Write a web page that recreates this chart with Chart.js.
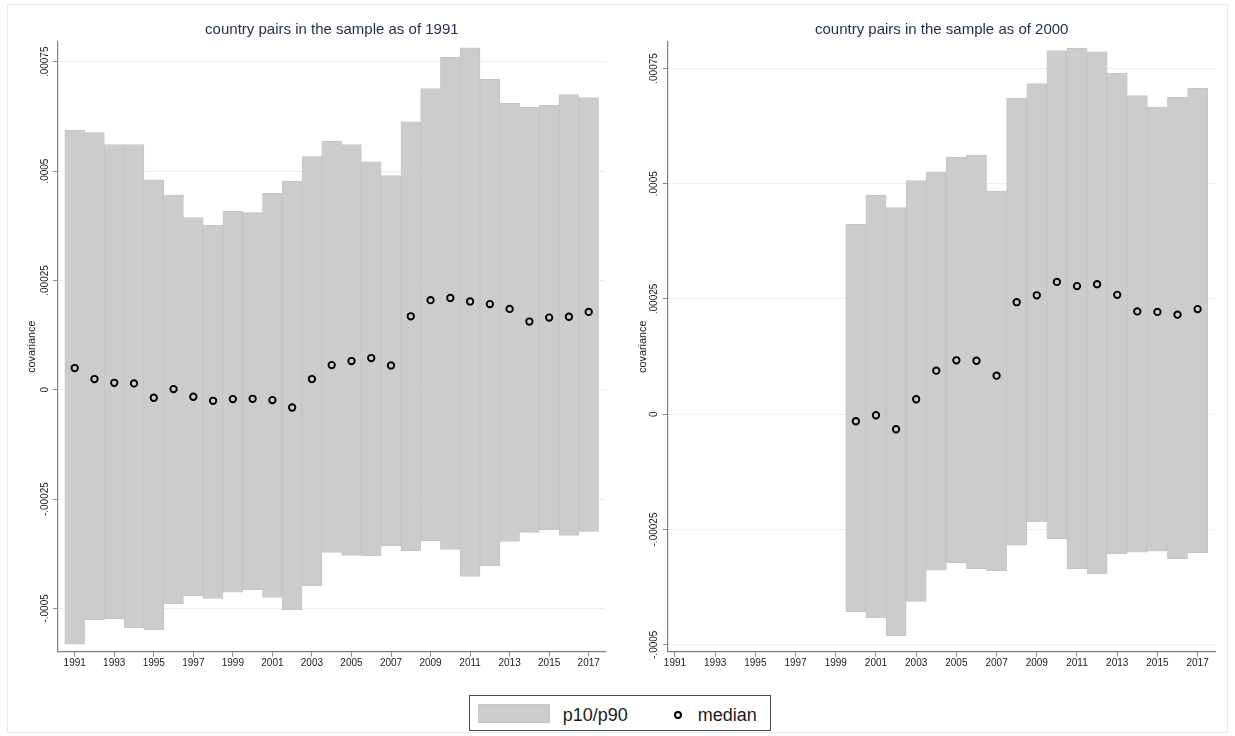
<!DOCTYPE html>
<html>
<head>
<meta charset="utf-8">
<title>covariance p10/p90 and median by year</title>
<script src="https://cdn.jsdelivr.net/npm/chart.js@4.4.1/dist/chart.umd.min.js"></script>
<style>
  html, body { margin: 0; padding: 0; background: #fff; }
  body { width: 1235px; height: 736px; position: relative; overflow: hidden;
         font-family: "Liberation Sans", Arial, Helvetica, sans-serif; }
  #frame { position: absolute; left: 7px; top: 4px; width: 1221px; height: 729px;
           border: 1px solid #e6ecee; box-sizing: border-box; }
  canvas { position: absolute; top: 0; }
  #left  { left: 0; }
  #right { left: 610px; }
  #legend { position: absolute; left: 469px; top: 695px; width: 302px; height: 36px;
            border: 1px solid #4a4a4a; box-sizing: border-box; background: #fff; }
  #legend .swatch { position: absolute; left: 8px; top: 8px; width: 72px; height: 19px;
                    background: #cccccc; border: 1px solid #c6c6c6; box-sizing: border-box; }
  #legend .label { position: absolute; top: 10px; font-size: 18px; line-height: 18px;
                   color: #1a1a1a; white-space: nowrap; }
  #legend .marker { position: absolute; left: 204px; top: 15.2px; width: 8.2px; height: 8.2px;
                    border: 2px solid #000; border-radius: 50%; box-sizing: border-box; }
</style>
</head>
<body>
<div id="frame"></div>
<canvas id="left" width="615" height="690"></canvas>
<canvas id="right" width="620" height="690"></canvas>
<div id="legend"></div>

<script>
// ---- data -----------------------------------------------------------
const years1991 = [1991, 1992, 1993, 1994, 1995, 1996, 1997, 1998, 1999, 2000,
                   2001, 2002, 2003, 2004, 2005, 2006, 2007, 2008, 2009, 2010,
                   2011, 2012, 2013, 2014, 2015, 2016, 2017];
const p90_1991 = [0.000594, 0.000588, 0.000561, 0.000561, 0.000480, 0.000445, 0.000394,
                  0.000376, 0.000408, 0.000405, 0.000449, 0.000477, 0.000533, 0.000568,
                  0.000561, 0.000521, 0.000490, 0.000613, 0.000689, 0.000761, 0.000782,
                  0.000710, 0.000655, 0.000646, 0.000651, 0.000675, 0.000668];
const p10_1991 = [-0.000582, -0.000526, -0.000524, -0.000544, -0.000549, -0.000489, -0.000471,
                  -0.000477, -0.000463, -0.000457, -0.000475, -0.000503, -0.000448, -0.000372,
                  -0.000379, -0.000380, -0.000357, -0.000368, -0.000345, -0.000365, -0.000427,
                  -0.000403, -0.000347, -0.000326, -0.000320, -0.000333, -0.000324];
const median_1991 = [0.0000497, 0.0000245, 0.0000160, 0.0000145, -0.0000183, 0.0000015, -0.0000160,
                     -0.0000252, -0.0000213, -0.0000206, -0.0000236, -0.0000405, 0.0000245, 0.0000565,
                     0.0000657, 0.0000726, 0.0000556, 0.000168, 0.000205, 0.000210, 0.000202,
                     0.000196, 0.000185, 0.000156, 0.000165, 0.000167, 0.000178];

const years2000 = [2000, 2001, 2002, 2003, 2004, 2005, 2006, 2007, 2008,
                   2009, 2010, 2011, 2012, 2013, 2014, 2015, 2016, 2017];
const p90_2000 = [0.000412, 0.000475, 0.000448, 0.000507, 0.000526, 0.000558, 0.000562, 0.000484, 0.000685,
                  0.000717, 0.000789, 0.000794, 0.000786, 0.000740, 0.000691, 0.000666, 0.000688, 0.000707];
const p10_2000 = [-0.000428, -0.000442, -0.000480, -0.000406, -0.000338, -0.000322, -0.000335, -0.000339, -0.000284,
                  -0.000233, -0.000270, -0.000335, -0.000346, -0.000303, -0.000299, -0.000297, -0.000314, -0.000300];
const median_2000 = [-0.0000152, -0.0000022, -0.0000325, 0.0000325, 0.0000945, 0.000117, 0.000116, 0.0000837, 0.000243,
                     0.000258, 0.000287, 0.000278, 0.000282, 0.000259, 0.000223, 0.000222, 0.000216, 0.000228];

const xTickYears = [1991, 1993, 1995, 1997, 1999, 2001, 2003, 2005, 2007, 2009, 2011, 2013, 2015, 2017];
const yTickValues = [-0.0005, -0.00025, 0, 0.00025, 0.0005, 0.00075];
const yTickLabels = ['-.0005', '-.00025', '0', '.00025', '.0005', '.00075'];
const seriesNames = ['p10/p90', 'median'];
const panelTitles = ['country pairs in the sample as of 1991', 'country pairs in the sample as of 2000'];
const yAxisTitle = 'covariance';

// ---- styling --------------------------------------------------------
const FONT = '"Liberation Sans", Arial, Helvetica, sans-serif';
const AXIS_COLOR = '#7f7f7f';
const TICK_COLOR = '#8c8c8c';
const GRID_COLOR = '#e9f0f1';
const TEXT_COLOR = '#1a1a1a';
const TITLE_COLOR = '#1f2d55';
const BAR_FILL = '#cccccc';
const BAR_EDGE = '#c5c5c5';
const CANVAS_H = 690;
const PLOT_BOTTOM = 651.7;

Chart.defaults.font.family = FONT;

function drawPanel(id, cfg) {
  const ranges = cfg.years.map((yr, i) => ({ x: yr, y: [cfg.p10[i], cfg.p90[i]] }));
  const medians = cfg.years.map((yr, i) => ({ x: yr, y: cfg.median[i] }));

  return new Chart(document.getElementById(id), {
    type: 'bar',
    data: {
      datasets: [
        {
          type: 'scatter',
          label: seriesNames[1],
          data: medians,
          order: 0,
          pointStyle: 'circle',
          pointRadius: 3.2,
          pointBorderWidth: 1.9,
          pointBorderColor: '#000000',
          pointBackgroundColor: 'rgba(0,0,0,0)'
        },
        {
          label: seriesNames[0],
          data: ranges,
          order: 1,
          backgroundColor: BAR_FILL,
          borderColor: BAR_EDGE,
          borderWidth: 1,
          borderSkipped: false,
          barPercentage: 1,
          categoryPercentage: 1
        }
      ]
    },
    options: {
      responsive: false,
      animation: false,
      devicePixelRatio: 1,
      events: [],
      layout: { padding: { left: 0, right: cfg.padRight, top: 0, bottom: 0 } },
      plugins: {
        legend: { display: false },
        tooltip: { enabled: false },
        title: {
          display: true,
          text: cfg.title,
          fullSize: false,
          color: TITLE_COLOR,
          font: { size: 15, weight: 'normal', lineHeight: 1.2 },
          padding: { top: 21.3, bottom: 2.4 }
        }
      },
      scales: {
        x: {
          type: 'linear',
          min: cfg.xMin,
          max: cfg.xMax,
          offset: false,
          grid: {
            display: true, drawOnChartArea: false, drawTicks: true, offset: false,
            tickLength: 5, tickColor: TICK_COLOR, tickWidth: 1
          },
          border: { display: true, color: AXIS_COLOR, width: 1.2 },
          ticks: {
            autoSkip: false, minRotation: 0, maxRotation: 0, padding: 1,
            color: TEXT_COLOR, font: { size: 10 },
            callback: (v) => String(v)
          },
          afterBuildTicks: (s) => { s.ticks = xTickYears.map(v => ({ value: v })); },
          afterFit: (s) => { s.height = CANVAS_H - PLOT_BOTTOM; }
        },
        y: {
          min: cfg.yMin,
          max: cfg.yMax,
          grid: {
            color: GRID_COLOR, lineWidth: 1, drawTicks: true,
            tickLength: 5, tickColor: TICK_COLOR, tickWidth: 1
          },
          border: { display: true, color: AXIS_COLOR, width: 1.2 },
          ticks: {
            minRotation: 90, maxRotation: 90, crossAlign: 'center', padding: -8.95,
            color: TEXT_COLOR, font: { size: 10 },
            callback: (v, i) => yTickLabels[i]
          },
          title: {
            display: true, text: yAxisTitle, color: TEXT_COLOR,
            font: { size: 10.8, lineHeight: 1.2 },
            padding: { top: cfg.titlePad, bottom: 0 }
          },
          afterBuildTicks: (s) => { s.ticks = yTickValues.map(v => ({ value: v })); },
          afterFit: (s) => { s.width = cfg.axisWidth; }
        }
      }
    }
  });
}

const leftChart = drawPanel('left', {
  title: panelTitles[0], years: years1991, p10: p10_1991, p90: p90_1991, median: median_1991,
  xMin: 1990.155, xMax: 2017.86, yMin: -0.000599, yMax: 0.000796,
  axisWidth: 58, padRight: 9.3, titlePad: 25.7
});

drawPanel('right', {
  title: panelTitles[1], years: years2000, p10: p10_2000, p90: p90_2000, median: median_2000,
  xMin: 1990.64, xMax: 2017.9, yMin: -0.000515, yMax: 0.000808,
  axisWidth: 57.7, padRight: 14.3, titlePad: 26.4
});

// ---- shared legend, built from the chart's dataset labels ---------------
(function buildLegend() {
  const legend = document.getElementById('legend');
  const ds = leftChart.data.datasets;
  const rangeLabel = ds.find(d => d.type !== 'scatter').label;
  const medianLabel = ds.find(d => d.type === 'scatter').label;

  const sw = document.createElement('div');
  sw.className = 'swatch';
  legend.appendChild(sw);

  const t1 = document.createElement('span');
  t1.className = 'label';
  t1.style.left = '92.7px';
  t1.textContent = rangeLabel;
  legend.appendChild(t1);

  const mk = document.createElement('div');
  mk.className = 'marker';
  legend.appendChild(mk);

  const t2 = document.createElement('span');
  t2.className = 'label';
  t2.style.left = '227.7px';
  t2.textContent = medianLabel;
  legend.appendChild(t2);
})();
</script>
</body>
</html>
